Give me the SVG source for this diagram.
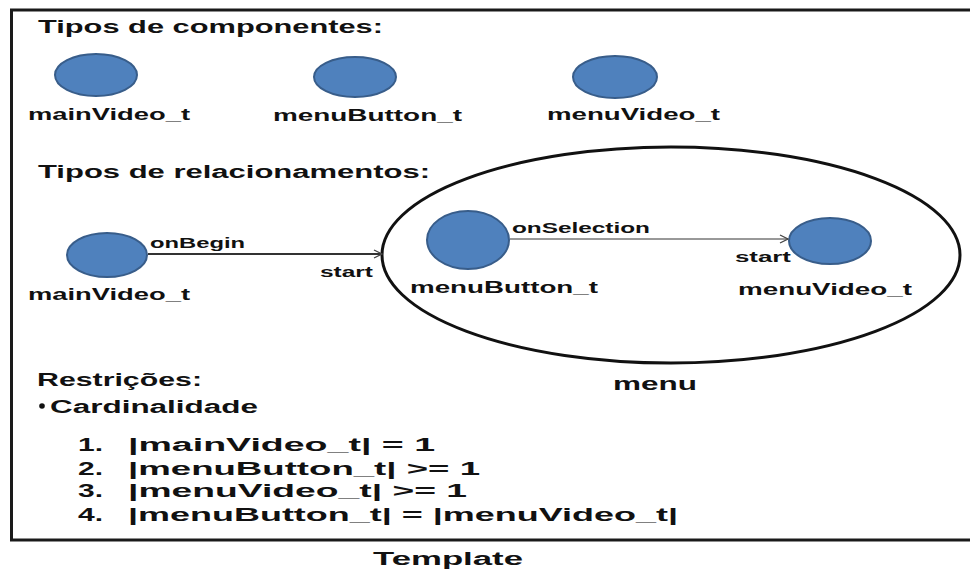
<svg xmlns="http://www.w3.org/2000/svg" width="970" height="572" viewBox="0 0 970 572">
<defs>
<style>
text{font-family:"Liberation Sans",Arial,sans-serif;font-weight:bold;fill:#111}
.h{font-size:18px}
.l{font-size:17px}
.s{font-size:14px}
.n{fill:#4F81BD;stroke:#385D8A;stroke-width:2}
.c{stroke:#333;fill:none}
</style>
<marker id="arr" viewBox="0 0 10 10" refX="9" refY="5" markerWidth="10" markerHeight="10" markerUnits="userSpaceOnUse" orient="auto">
<path d="M1,1 L9,5 L1,9" fill="none" stroke="#444" stroke-width="1.3"/>
</marker>
</defs>
<rect width="970" height="572" fill="#fff"/>
<rect x="11.5" y="10" width="975" height="530" fill="none" stroke="#1a1a1a" stroke-width="3"/>

<text class="h" x="38" y="33" textLength="345" lengthAdjust="spacingAndGlyphs">Tipos de componentes:</text>

<g id="comp-mainVideo">
<ellipse class="n" cx="96" cy="75" rx="41" ry="21"/>
<text class="l" x="28" y="120" textLength="162" lengthAdjust="spacingAndGlyphs">mainVideo_t</text>
</g>
<g id="comp-menuButton">
<ellipse class="n" cx="355" cy="77" rx="41" ry="20"/>
<text class="l" x="273" y="121" textLength="189" lengthAdjust="spacingAndGlyphs">menuButton_t</text>
</g>
<g id="comp-menuVideo">
<ellipse class="n" cx="615" cy="77" rx="42" ry="21"/>
<text class="l" x="547" y="120" textLength="173" lengthAdjust="spacingAndGlyphs">menuVideo_t</text>
</g>

<text class="h" x="38" y="178" textLength="392" lengthAdjust="spacingAndGlyphs">Tipos de relacionamentos:</text>

<g id="menu">
<ellipse cx="671" cy="255" rx="289" ry="108" fill="none" stroke="#111" stroke-width="3"/>
<text class="h" x="613" y="390" textLength="84" lengthAdjust="spacingAndGlyphs">menu</text>
</g>

<g id="rel-mainVideo">
<ellipse class="n" cx="107" cy="255" rx="40" ry="22"/>
<text class="l" x="28" y="300" textLength="162" lengthAdjust="spacingAndGlyphs">mainVideo_t</text>
</g>
<g id="rel-menuButton">
<ellipse class="n" cx="468" cy="240" rx="41" ry="29"/>
<text class="l" x="410" y="293" textLength="188" lengthAdjust="spacingAndGlyphs">menuButton_t</text>
</g>
<g id="rel-menuVideo">
<ellipse class="n" cx="830" cy="241" rx="41" ry="23"/>
<text class="l" x="738" y="295" textLength="174" lengthAdjust="spacingAndGlyphs">menuVideo_t</text>
</g>

<g id="connectors">
<line class="c" x1="148" y1="254" x2="382" y2="254" stroke-width="2" marker-end="url(#arr)"/>
<text class="s" x="150" y="248" textLength="95" lengthAdjust="spacingAndGlyphs">onBegin</text>
<text class="s" x="320" y="277" textLength="53" lengthAdjust="spacingAndGlyphs">start</text>
<line class="c" x1="510" y1="239" x2="788" y2="239" stroke-width="1" marker-end="url(#arr)"/>
<text class="s" x="512" y="233" textLength="138" lengthAdjust="spacingAndGlyphs">onSelection</text>
<text class="s" x="735" y="262" textLength="56" lengthAdjust="spacingAndGlyphs">start</text>
</g>

<text class="h" x="37" y="386" textLength="165" lengthAdjust="spacingAndGlyphs">Restrições:</text>
<circle cx="42" cy="406" r="2.8" fill="#111"/>
<text class="h" x="50" y="413" textLength="208" lengthAdjust="spacingAndGlyphs">Cardinalidade</text>
<text class="h" x="78" y="451" textLength="25" lengthAdjust="spacingAndGlyphs">1.</text>
<text class="h" x="128" y="451" textLength="307" lengthAdjust="spacingAndGlyphs">|mainVideo_t| = 1</text>
<text class="h" x="78" y="475" textLength="25" lengthAdjust="spacingAndGlyphs">2.</text>
<text class="h" x="128" y="475" textLength="352" lengthAdjust="spacingAndGlyphs">|menuButton_t| &gt;= 1</text>
<text class="h" x="78" y="497" textLength="25" lengthAdjust="spacingAndGlyphs">3.</text>
<text class="h" x="128" y="497" textLength="339" lengthAdjust="spacingAndGlyphs">|menuVideo_t| &gt;= 1</text>
<text class="h" x="78" y="521" textLength="25" lengthAdjust="spacingAndGlyphs">4.</text>
<text class="h" x="128" y="521" textLength="550" lengthAdjust="spacingAndGlyphs">|menuButton_t| = |menuVideo_t|</text>

<text class="h" x="373" y="565" textLength="150" lengthAdjust="spacingAndGlyphs">Template</text>
</svg>
